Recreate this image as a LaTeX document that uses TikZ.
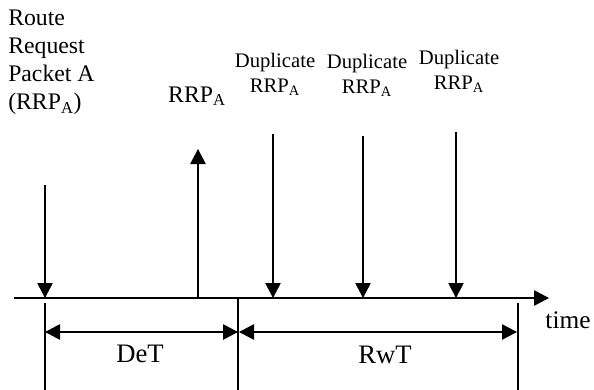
\documentclass[tikz,border=0pt]{standalone}
\usepackage{fontspec}
\setmainfont{Liberation Serif}
\usetikzlibrary{arrows.meta}
\begin{document}
\begin{tikzpicture}[x=0.75pt,y=-0.75pt,
  ln/.style={line width=1.2pt},
  arr/.style={ln,-{Triangle[length=11.25pt,width=11.5pt]}},
  dimarr/.style={ln,{Triangle[length=11.25pt,width=11.5pt]}-{Triangle[length=11.25pt,width=11.5pt]}},
  biglbl/.style={inner sep=0pt,font=\fontsize{17.8}{21}\selectfont},
  duplbl/.style={inner sep=0pt,align=center,font=\fontsize{15.5}{18.75}\selectfont},
  dimlbl/.style={inner sep=0pt,anchor=base,font=\fontsize{20}{24}\selectfont},
]
\useasboundingbox (0,0) rectangle (594,390);
% timeline
\coordinate (t0) at (14,298);
\coordinate (t1) at (549,298);
\draw[arr] (t0) -- (t1);
% labels at top
\node[biglbl,align=left,anchor=north west] (rrpa) at (8,10) {Route\\Request\\Packet A\\(RRP\textsubscript{A})};
\node[biglbl,anchor=base] (rrp2) at (197,102) {RRP\textsubscript{A}};
\node[duplbl,anchor=north] (dup1) at (275,53) {Duplicate\\RRP\textsubscript{A}};
\node[duplbl,anchor=north] (dup2) at (367,54) {Duplicate\\RRP\textsubscript{A}};
\node[duplbl,anchor=north] (dup3) at (459,50) {Duplicate\\RRP\textsubscript{A}};
% event arrows
\coordinate (a1s) at (45,185);  \coordinate (a1e) at (45,298);
\coordinate (a2s) at (198,299); \coordinate (a2e) at (198,149);
\coordinate (a3s) at (273,134); \coordinate (a3e) at (273,298);
\coordinate (a4s) at (363,136); \coordinate (a4e) at (363,298);
\coordinate (a5s) at (456,132); \coordinate (a5e) at (456,298);
\draw[arr] (a1s) -- (a1e);
\draw[arr] (a2s) -- (a2e);
\draw[arr] (a3s) -- (a3e);
\draw[arr] (a4s) -- (a4e);
\draw[arr] (a5s) -- (a5e);
% ticks
\coordinate (k1s) at (45,303);  \coordinate (k1e) at (45,390);
\coordinate (k2s) at (238,298); \coordinate (k2e) at (238,390);
\coordinate (k3s) at (518,303); \coordinate (k3e) at (518,390);
\draw[ln] (k1s) -- (k1e);
\draw[ln] (k2s) -- (k2e);
\draw[ln] (k3s) -- (k3e);
% dimension arrows
\coordinate (d1a) at (45,332);  \coordinate (d1b) at (238,332);
\coordinate (d2a) at (239,332); \coordinate (d2b) at (517,332);
\draw[dimarr] (d1a) -- (d1b);
\draw[dimarr] (d2a) -- (d2b);
\node[dimlbl] (det) at (140,362) {DeT};
\node[dimlbl] (rwt) at (385,363) {RwT};
\node[dimlbl,font=\fontsize{19}{23}\selectfont] (time) at (568,328) {time};
\end{tikzpicture}
\end{document}
